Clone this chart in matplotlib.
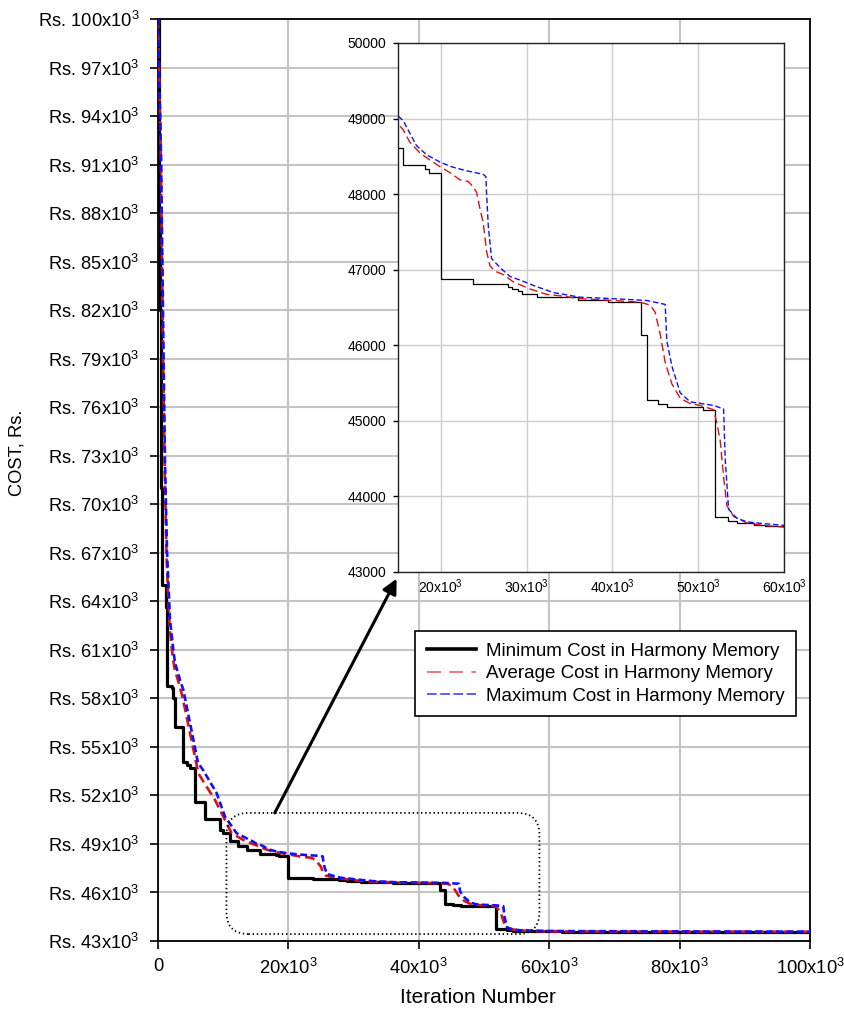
import matplotlib.pyplot as plt
from matplotlib.lines import Line2D
from matplotlib.patches import FancyBboxPatch
from matplotlib.ticker import FuncFormatter

plt.rcParams['font.family'] = ['Liberation Sans', 'DejaVu Sans']
plt.rcParams['mathtext.fontset'] = 'custom'
plt.rcParams['mathtext.rm'] = 'Liberation Sans'
plt.rcParams['mathtext.it'] = 'Liberation Sans:italic'
plt.rcParams['mathtext.bf'] = 'Liberation Sans:bold'
plt.rcParams['lines.scale_dashes'] = False

# minimum cost in harmony memory (step curve)
min_iter = [0, 100, 200, 300, 400, 500, 600, 1230, 1380, 2100, 2300, 2600,
            3833, 4450, 4900, 5670, 7200, 9500, 10000, 11100, 12270, 13640,
            15600, 18100, 18600, 20000, 23700, 27800, 28300, 29000, 29400,
            31200, 36000, 39500, 43300, 44000, 45300, 46400, 50500, 51900,
            53500, 54500, 56500, 57800, 62000, 100000]
min_cost = [100000, 95000, 88000, 82000, 76000, 71000, 65000, 63660, 58774,
            58650, 58030, 56240, 54073, 53900, 53700, 51600, 50547, 49866,
            49680, 49200, 48877, 48616, 48379, 48332, 48284, 46877, 46806,
            46777, 46745, 46711, 46682, 46635, 46602, 46569, 46142, 45275,
            45218, 45180, 45147, 43725, 43678, 43649, 43616, 43602, 43583,
            43583]

# average cost in harmony memory
avg_iter = [0, 430, 760, 1030, 1330, 1780, 2250, 2550, 3300, 3750, 4906,
            6184, 6900, 8740, 11290, 13500, 15020, 15600, 16380, 17550, 18720,
            20000, 21050, 22200, 23200, 23770, 24160, 24550, 24940, 25330,
            25720, 26300, 27280, 28440, 30390, 32330, 34280, 36230, 40100,
            43230, 44400, 44980, 45560, 46150, 46930, 47900, 49070, 50230,
            51790, 52180, 52570, 52960, 53350, 54120, 55680, 57630, 60040,
            100000]
avg_cost = [100000, 91600, 80000, 72000, 66500, 62400, 60600, 59800, 58800,
            58100, 55867, 53374, 52900, 51722, 49663, 49150, 48924, 48853,
            48687, 48545, 48450, 48355, 48284, 48190, 48166, 48095, 48024,
            47810, 47621, 47242, 47052, 46981, 46934, 46839, 46744, 46673,
            46649, 46616, 46592, 46569, 46531, 46436, 46152, 45773, 45488,
            45299, 45227, 45204, 45147, 44967, 44730, 44256, 43877, 43735,
            43649, 43616, 43592, 43570]

# maximum cost in harmony memory
max_iter = [0, 460, 810, 1073, 1380, 1840, 2350, 2606, 3373, 3885, 5213,
            6133, 6900, 9000, 10270, 12060, 14610, 15020, 15600, 16380,
            17160, 18330, 20000, 21440, 23000, 24940, 25250, 25330, 25530,
            25910, 26890, 28050, 29220, 30780, 33110, 36230, 40100, 44000,
            46150, 46340, 46930, 47900, 49070, 51790, 52960, 53150, 53540,
            54500, 55680, 57630, 60040, 100000]
max_cost = [100000, 91600, 80500, 72570, 67063, 62857, 61000, 60197, 59145,
            58527, 55867, 54011, 53578, 52136, 50690, 49663, 49140, 49033,
            48972, 48806, 48640, 48521, 48417, 48355, 48308, 48261, 48230,
            48000, 47573, 47147, 47028, 46910, 46863, 46791, 46697, 46635,
            46616, 46592, 46540, 46057, 45725, 45370, 45251, 45204, 45156,
            44493, 43830, 43711, 43663, 43640, 43616, 43575]

x_ticks = [0, 20000, 40000, 60000, 80000, 100000]
y_ticks = list(range(43000, 100001, 3000))
inset_x_ticks = [20000, 30000, 40000, 50000, 60000]
inset_y_ticks = list(range(43000, 50001, 1000))
legend_labels = ['Minimum Cost in Harmony Memory',
                 'Average Cost in Harmony Memory',
                 'Maximum Cost in Harmony Memory']

# region marked on the main chart and the arrow pointing to the inset
zoom_x = (10500, 58500)
zoom_y = (43430, 50920)
arrow_from = (17900, 50920)
arrow_to = (36600, 65400)


def k_label(v, pos=None):
    if v == 0:
        return '0'
    return r'%dx10$^{3}$' % round(v / 1000)


def rs_label(v, pos=None):
    return r'Rs. %dx10$^{3}$' % round(v / 1000)


fig = plt.figure(figsize=(8.45, 10.10), dpi=100)
ax = fig.add_axes([0.187, 0.0683, 0.7716, 0.9129])

ax.plot(min_iter, min_cost, color='black', lw=2.3, drawstyle='steps-post',
        zorder=3)
ax.plot(avg_iter, avg_cost, color='#e01010', lw=1.9, dashes=(7, 3.5), zorder=4)
ax.plot(max_iter, max_cost, color='#1010ff', lw=1.9, dashes=(5, 2.5), zorder=5)

ax.set_xlim(0, 100000)
ax.set_ylim(43000, 100000)
ax.set_xticks(x_ticks)
ax.set_yticks(y_ticks)
ax.xaxis.set_major_formatter(FuncFormatter(k_label))
ax.yaxis.set_major_formatter(FuncFormatter(rs_label))
ax.tick_params(direction='out', length=5.5, width=1.2, labelsize=13.2,
               colors='black')
ax.tick_params(axis='x', pad=7)
ax.tick_params(axis='y', pad=8)
ax.grid(True, color='#c4c4c4', lw=1.5)
ax.set_axisbelow(True)
for s in ax.spines.values():
    s.set_linewidth(1.3)
    s.set_color('black')

ax.set_xlabel('Iteration Number', fontsize=15)
ax.set_ylabel('COST, Rs.', fontsize=13.2)
ax.xaxis.set_label_coords(0.49, -0.051)
ax.yaxis.set_label_coords(-0.203, 0.529)

# dotted rounded box around the zoomed region
xl, yl = ax.get_xlim(), ax.get_ylim()
bx0 = (zoom_x[0] - xl[0]) / (xl[1] - xl[0])
bx1 = (zoom_x[1] - xl[0]) / (xl[1] - xl[0])
by0 = (zoom_y[0] - yl[0]) / (yl[1] - yl[0])
by1 = (zoom_y[1] - yl[0]) / (yl[1] - yl[0])
aw = 0.7716 * 845
ah = 0.9129 * 1010
box = FancyBboxPatch((bx0, by0), bx1 - bx0, by1 - by0,
                     boxstyle='round,pad=0,rounding_size=%f' % (22 / aw),
                     mutation_aspect=aw / ah, transform=ax.transAxes,
                     fill=False, ec='black', lw=1.3, ls=(0, (1, 2)), zorder=6)
ax.add_patch(box)

ax.annotate('', xy=arrow_to, xytext=arrow_from,
            arrowprops=dict(arrowstyle='-|>', color='black', lw=2.2,
                            mutation_scale=22, shrinkA=0, shrinkB=0),
            zorder=6)

handles = [Line2D([], [], color='black', lw=2.6),
           Line2D([], [], color='#e87070', lw=1.3, dashes=(10, 6)),
           Line2D([], [], color='#5050ff', lw=1.3, dashes=(7, 2.5))]
leg = ax.legend(handles, legend_labels, loc='center',
                bbox_to_anchor=(0.687, 0.290), fontsize=13.5, frameon=True,
                fancybox=False, framealpha=1, edgecolor='black',
                handlelength=2.6, handletextpad=0.55, labelspacing=0.28,
                borderpad=0.62)
leg.get_frame().set_linewidth(1.2)
leg.set_zorder(7)

# inset
ins = fig.add_axes([0.471, 0.4337, 0.4568, 0.5238])
ins.set_facecolor('white')
ins.plot(min_iter, min_cost, color='black', lw=0.9, drawstyle='steps-post',
         zorder=3)
ins.plot(avg_iter, avg_cost, color='#e01010', lw=1.0, dashes=(6, 3), zorder=4)
ins.plot(max_iter, max_cost, color='#1010ff', lw=1.0, dashes=(4, 2), zorder=5)
ins.set_xlim(15000, 60000)
ins.set_ylim(43000, 50000)
ins.set_xticks(inset_x_ticks)
ins.set_yticks(inset_y_ticks)
ins.xaxis.set_major_formatter(FuncFormatter(k_label))
ins.tick_params(labelsize=10, colors='black')
ins.tick_params(axis='y', direction='out', length=3.6, width=1, pad=5)
ins.tick_params(axis='x', length=0, pad=4)
ins.grid(True, color='#cccccc', lw=1.0)
ins.set_axisbelow(True)
for s in ins.spines.values():
    s.set_linewidth(1.0)
    s.set_color('#222222')

fig.savefig('out.png', dpi=100)
